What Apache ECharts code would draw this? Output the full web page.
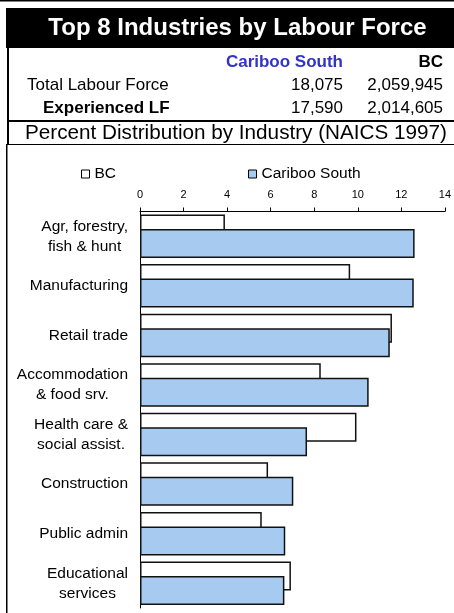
<!DOCTYPE html>
<html>
<head>
<meta charset="utf-8">
<script src="https://cdn.jsdelivr.net/npm/echarts@6/dist/echarts.min.js"></script>
<style>
  html, body { margin: 0; padding: 0; background: #fff; }
  #main { width: 454px; height: 613px; }
</style>
</head>
<body>
<div id="main"></div>
<script>
  // categories, top to bottom
  var categories = [
    'Agr, forestry,\nfish & hunt',
    'Manufacturing',
    'Retail trade',
    'Accommodation\n& food srv.',
    'Health care &\nsocial assist.',
    'Construction',
    'Public admin',
    'Educational\nservices'
  ];
  // percent of experienced labour force
  var bcValues = [3.9, 9.65, 11.57, 8.3, 9.94, 5.88, 5.59, 6.93];
  var caribooValues = [12.61, 12.57, 11.47, 10.5, 7.67, 7.04, 6.67, 6.63];
  var xTicks = [0, 2, 4, 6, 8, 10, 12, 14];

  // header table
  var regionNames = ['Cariboo South', 'BC'];
  var totalLF = ['18,075', '2,059,945'];
  var experiencedLF = ['17,590', '2,014,605'];

  var FONT = '"Liberation Sans", Arial, sans-serif';

  var myChart = echarts.init(document.getElementById('main'));

  function txt(x, y, text, size, opts) {
    opts = opts || {};
    return {
      type: 'text', x: x, y: y, silent: true,
      style: {
        text: text,
        font: (opts.bold ? 'bold ' : '') + size + 'px ' + FONT,
        fill: opts.fill || '#000',
        align: opts.align || 'left',
        verticalAlign: 'middle'
      }
    };
  }

  var graphics = [
    // frame and title band
    { type: 'rect', silent: true, shape: { x: 0, y: 0, width: 454, height: 1.5 }, style: { fill: '#000' } },
    { type: 'rect', silent: true, shape: { x: 6, y: 8, width: 448, height: 40 }, style: { fill: '#000' } },
    { type: 'rect', silent: true, shape: { x: 7, y: 48, width: 2, height: 96 }, style: { fill: '#000' } },
    { type: 'rect', silent: true, shape: { x: 7, y: 120, width: 447, height: 2 }, style: { fill: '#000' } },
    { type: 'rect', silent: true, shape: { x: 6, y: 144, width: 448, height: 1 }, style: { fill: '#000' } },
    { type: 'rect', silent: true, shape: { x: 6, y: 144, width: 1.5, height: 469 }, style: { fill: '#000' } },
    txt(237.5, 28.5, 'Top 8 Industries by Labour Force', 24, { bold: true, fill: '#fff', align: 'center' }),
    txt(343, 62, regionNames[0], 17, { bold: true, fill: '#3333cc', align: 'right' }),
    txt(443, 62, regionNames[1], 17, { bold: true, align: 'right' }),
    txt(27, 85, 'Total Labour Force', 17),
    txt(343, 85, totalLF[0], 17, { align: 'right' }),
    txt(443, 85, totalLF[1], 17, { align: 'right' }),
    txt(43, 108, 'Experienced LF', 17, { bold: true }),
    txt(343, 108, experiencedLF[0], 17, { align: 'right' }),
    txt(443, 108, experiencedLF[1], 17, { align: 'right' }),
    txt(25, 133, 'Percent Distribution by Industry (NAICS 1997)', 20.7)
  ];

  myChart.setOption({
    animation: false,
    textStyle: { fontFamily: FONT },
    graphic: graphics,
    legend: {
      left: 76,
      top: 161,
      itemWidth: 8,
      itemHeight: 8,
      itemGap: 132,
      icon: 'rect',
      itemStyle: { borderWidth: 1, borderColor: '#000' },
      textStyle: { fontSize: 15.5, color: '#000' },
      data: ['BC', 'Cariboo South']
    },
    grid: {
      left: 140,
      right: 8,
      top: 211.5,
      bottom: 5,
      containLabel: false
    },
    xAxis: {
      type: 'value',
      position: 'top',
      min: xTicks[0],
      max: xTicks[xTicks.length - 1],
      interval: 2,
      axisLine: { show: true, lineStyle: { color: '#000', width: 1 } },
      axisTick: { show: true, length: 4, lineStyle: { color: '#000' } },
      axisLabel: { fontSize: 11, color: '#000', margin: 11 },
      splitLine: { show: false }
    },
    yAxis: {
      type: 'category',
      inverse: true,
      data: categories,
      axisLine: { show: true, lineStyle: { color: '#000', width: 1 } },
      axisTick: { show: false },
      axisLabel: {
        margin: 12,
        color: '#000',
        formatter: function (value) {
          return value.split('\n').map(function (s) { return '{c|' + s + '}'; }).join('\n');
        },
        rich: {
          c: { align: 'center', fontSize: 15.5, lineHeight: 20, color: '#000', fontFamily: FONT }
        }
      }
    },
    series: [
      {
        name: 'BC',
        type: 'bar',
        data: bcValues,
        barWidth: 29,
        barGap: '-50%',
        itemStyle: { color: '#ffffff', borderColor: '#111', borderWidth: 1.5 }
      },
      {
        name: 'Cariboo South',
        type: 'bar',
        data: caribooValues,
        barWidth: 29,
        barGap: '-50%',
        itemStyle: { color: '#a6caf0', borderColor: '#111', borderWidth: 1.5 }
      }
    ]
  });
</script>
</body>
</html>
